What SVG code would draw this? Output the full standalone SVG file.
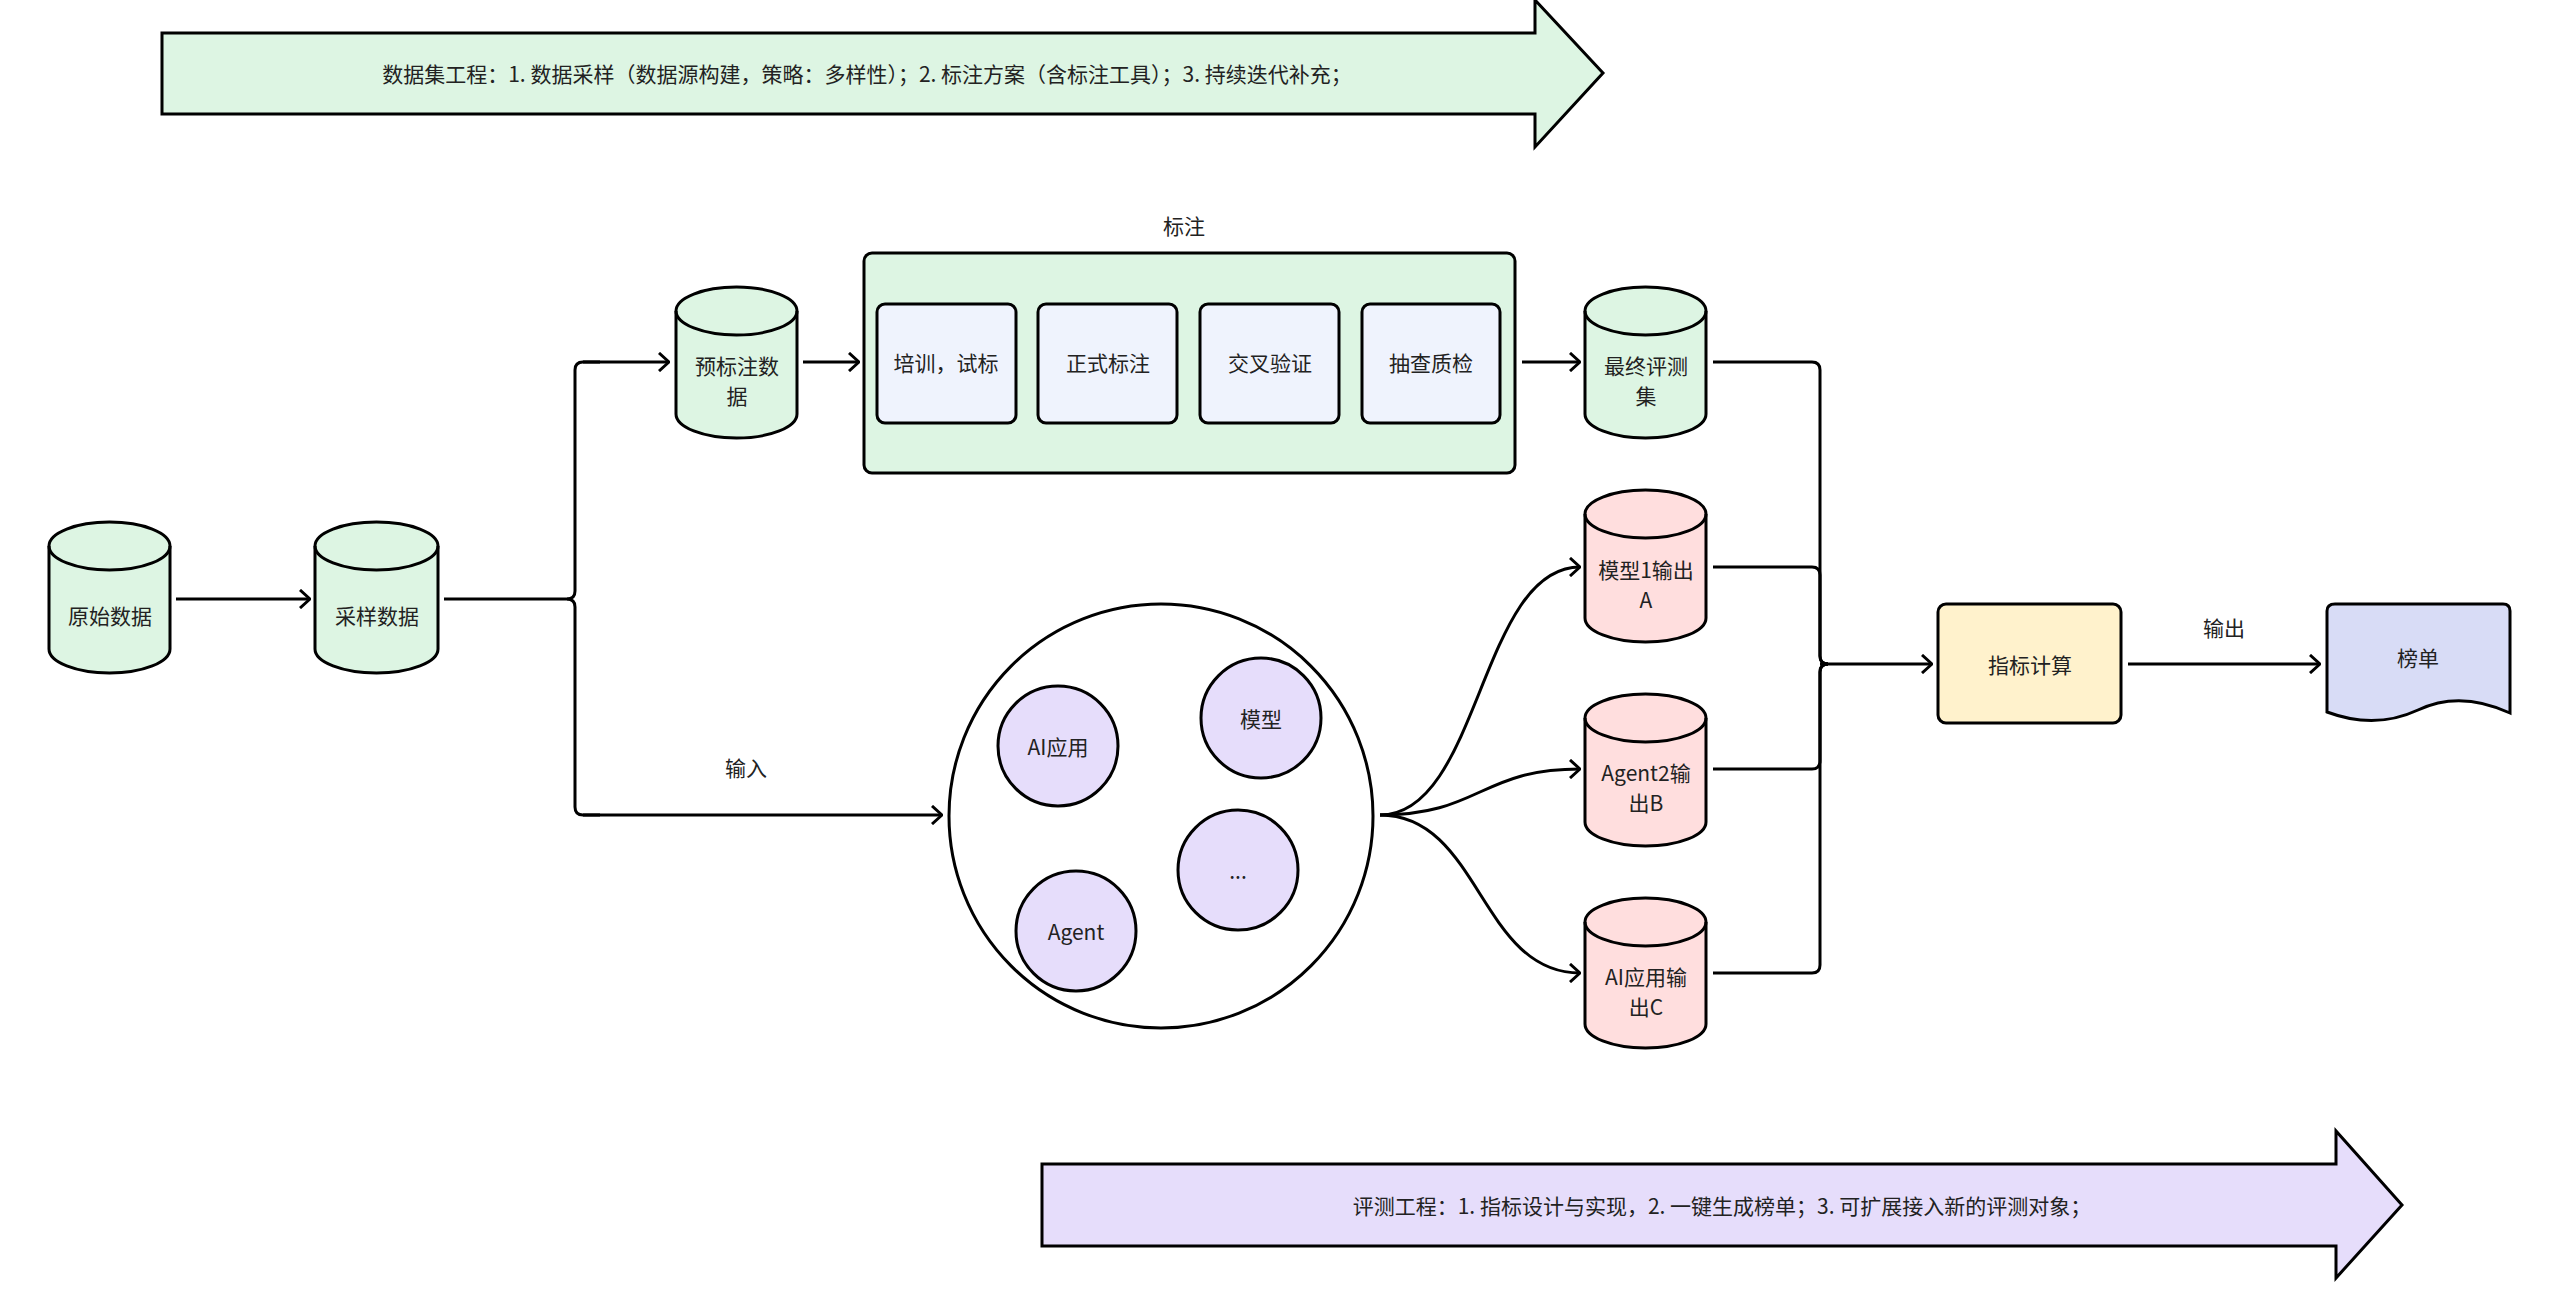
<svg xmlns="http://www.w3.org/2000/svg" width="2560" height="1304" viewBox="0 0 2560 1304">
<defs>
<marker id="ah" viewBox="0 0 12 20" refX="11" refY="10" markerWidth="12" markerHeight="20" markerUnits="userSpaceOnUse" orient="auto"><path d="M1,1 L11,10 L1,19" fill="none" stroke="#000" stroke-width="3"/></marker>
<style>
text{font-family:"Noto Sans CJK SC","Noto Sans",sans-serif;font-size:21px;fill:#222;text-anchor:middle;dominant-baseline:central}
.s{stroke:#000;stroke-width:3}
.g{fill:#ddf5e3}.p{fill:#ffdede}.b{fill:#eff3fd}.v{fill:#e6ddfb}
.c{fill:none;stroke:#000;stroke-width:3;marker-end:url(#ah)}
.l{fill:none;stroke:#000;stroke-width:3}
</style>
</defs>
<rect width="2560" height="1304" fill="#fff"/>
<g id="top-banner"><path class="s g" d="M162,33 H1535 V0 L1603,73 L1535,147 V114 H162 Z"/><text x="867" y="73">数据集工程：1. 数据采样（数据源构建，策略：多样性）；2. 标注方案（含标注工具）；3. 持续迭代补充；</text></g>
<g id="bottom-banner"><path class="s v" d="M1042,1164 H2336 V1131 L2402,1205 L2336,1278 V1246 H1042 Z"/><text x="1722" y="1205">评测工程：1. 指标设计与实现，2. 一键生成榜单；3. 可扩展接入新的评测对象；</text></g>
<g id="connectors">
<path class="c" d="M176,599 H310"/>
<path class="l" d="M444,599 H567 Q575,599 575,591 V370 Q575,362 583,362 H600"/>
<path class="c" d="M583,362 H669"/>
<path class="l" d="M567,599 Q575,599 575,607 V807 Q575,815 583,815 H600"/>
<path class="c" d="M583,815 H942"/>
<path class="c" d="M803,362 H859"/>
<path class="c" d="M1016,362 H1036"/>
<path class="c" d="M1177,362 H1198"/>
<path class="c" d="M1339,362 H1360"/>
<path class="c" d="M1522,362 H1580"/>
<path class="l" d="M1713,362 H1812 Q1820,362 1820,370 V656 Q1820,664 1828,664"/>
<path class="l" d="M1713,567 H1812 Q1820,567 1820,575 V656 Q1820,664 1828,664"/>
<path class="l" d="M1713,769 H1812 Q1820,769 1820,761 V672 Q1820,664 1828,664"/>
<path class="l" d="M1713,973 H1812 Q1820,973 1820,965 V672 Q1820,664 1828,664"/>
<path class="c" d="M1820,664 H1932"/>
<path class="c" d="M1380,815 C1480,815 1480,567 1580,567"/>
<path class="c" d="M1380,815 C1480,815 1480,769 1580,769"/>
<path class="c" d="M1380,815 C1480,815 1480,973 1580,973"/>
<path class="c" d="M2128,664 H2320"/>
<text x="746" y="767">输入</text>
<text x="2224" y="627">输出</text>
</g>
<g id="n-raw"><path class="s g" d="M49,546 V649 A60.5,24 0 0 0 170,649 V546 A60.5,24 0 0 0 49,546 Z"/><path class="l" d="M49,546 A60.5,24 0 0 0 170,546"/><text x="110" y="615">原始数据</text></g>
<g id="n-sample"><path class="s g" d="M315,546 V649 A61.5,24 0 0 0 438,649 V546 A61.5,24 0 0 0 315,546 Z"/><path class="l" d="M315,546 A61.5,24 0 0 0 438,546"/><text x="377" y="615">采样数据</text></g>
<g id="n-pre"><path class="s g" d="M676,311 V414 A60.5,24 0 0 0 797,414 V311 A60.5,24 0 0 0 676,311 Z"/><path class="l" d="M676,311 A60.5,24 0 0 0 797,311"/><text x="737" y="365">预标注数</text><text x="737" y="395">据</text></g>
<g id="n-group"><rect class="s g" x="864" y="253" width="651" height="220" rx="8"/><text x="1184" y="225">标注</text></g>
<g id="n-train"><rect class="s b" x="877" y="304" width="139" height="119" rx="8"/><text x="946" y="362">培训，试标</text></g>
<g id="n-formal"><rect class="s b" x="1038" y="304" width="139" height="119" rx="8"/><text x="1108" y="362">正式标注</text></g>
<g id="n-cross"><rect class="s b" x="1200" y="304" width="139" height="119" rx="8"/><text x="1270" y="362">交叉验证</text></g>
<g id="n-qc"><rect class="s b" x="1362" y="304" width="138" height="119" rx="8"/><text x="1431" y="362">抽查质检</text></g>
<g id="n-final"><path class="s g" d="M1585,311 V414 A60.5,24 0 0 0 1706,414 V311 A60.5,24 0 0 0 1585,311 Z"/><path class="l" d="M1585,311 A60.5,24 0 0 0 1706,311"/><text x="1646" y="365">最终评测</text><text x="1646" y="395">集</text></g>
<g id="n-outA"><path class="s p" d="M1585,514 V618 A60.5,24 0 0 0 1706,618 V514 A60.5,24 0 0 0 1585,514 Z"/><path class="l" d="M1585,514 A60.5,24 0 0 0 1706,514"/><text x="1646" y="569">模型1输出</text><text x="1646" y="599">A</text></g>
<g id="n-outB"><path class="s p" d="M1585,718 V822 A60.5,24 0 0 0 1706,822 V718 A60.5,24 0 0 0 1585,718 Z"/><path class="l" d="M1585,718 A60.5,24 0 0 0 1706,718"/><text x="1646" y="772">Agent2输</text><text x="1646" y="802">出B</text></g>
<g id="n-outC"><path class="s p" d="M1585,922 V1024 A60.5,24 0 0 0 1706,1024 V922 A60.5,24 0 0 0 1585,922 Z"/><path class="l" d="M1585,922 A60.5,24 0 0 0 1706,922"/><text x="1646" y="976">AI应用输</text><text x="1646" y="1006">出C</text></g>
<g id="n-targets"><circle class="s" fill="#fff" cx="1161" cy="816" r="212"/>
<circle class="s v" cx="1058" cy="746" r="60"/><text x="1058" y="746">AI应用</text>
<circle class="s v" cx="1261" cy="718" r="60"/><text x="1261" y="718">模型</text>
<circle class="s v" cx="1238" cy="870" r="60"/><text x="1238" y="870">...</text>
<circle class="s v" cx="1076" cy="931" r="60"/><text x="1076" y="931">Agent</text></g>
<g id="n-metric"><rect class="s" fill="#fff2cc" x="1938" y="604" width="183" height="119" rx="8"/><text x="2030" y="664">指标计算</text></g>
<g id="n-board"><path class="s" fill="#d8dcf6" d="M2335,604 H2503 Q2510,604 2510,611 V713 Q2460,690 2418,710 Q2375,730 2327,712 V611 Q2327,604 2335,604 Z"/><text x="2418" y="657">榜单</text></g>
</svg>
